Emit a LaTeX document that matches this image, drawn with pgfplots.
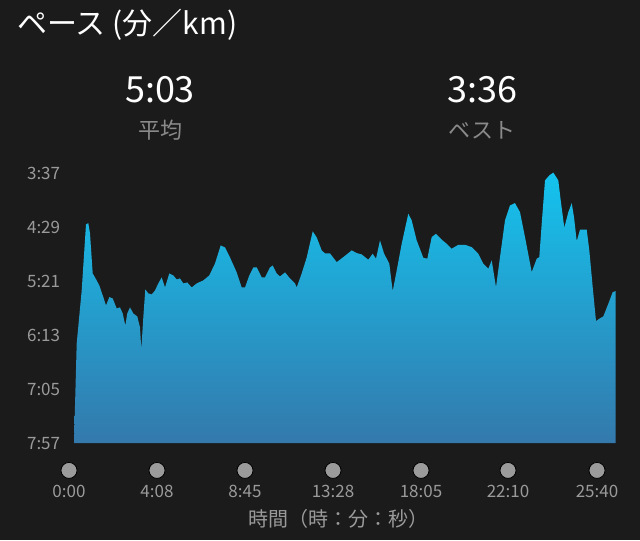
\documentclass[border=0pt]{standalone}
\usepackage{pgfplots}
\pgfplotsset{compat=1.18}
\usepackage{fontspec}
\setmainfont{Noto Sans CJK JP}
\definecolor{bg}{HTML}{1B1B1B}
\definecolor{tickc}{HTML}{9A9A9A}
\definecolor{subc}{HTML}{8A8A8A}
\definecolor{dotc}{HTML}{9B9B9B}
\definecolor{topc}{HTML}{14C3EE}
\definecolor{botc}{HTML}{3479AC}
\begin{document}
\begin{tikzpicture}[x=0.5pt,y=-0.5pt]
\fill[bg] (0,0) rectangle (640,540);
\path[use as bounding box] (0,0) rectangle (640,540);
\node[anchor=west,text=white,font=\fontsize{15}{17}\selectfont,inner sep=0pt] at (17,25) {ペース (分／km)};
\node[text=white,font=\fontsize{18}{20}\selectfont] at (160,90) {5:03};
\node[text=subc,font=\fontsize{11}{13}\selectfont] at (160,130) {平均};
\node[text=white,font=\fontsize{18}{20}\selectfont] at (482,90) {3:36};
\node[text=subc,font=\fontsize{11}{13}\selectfont] at (482,130) {ベスト};
\begin{axis}[
  at={(69,426.7)}, anchor=south west,
  scale only axis, width=273.35pt, height=135pt,
  xmin=0, xmax=546.7, ymin=217, ymax=477, y dir=reverse,
  axis line style={draw=none}, major tick length=0pt,
  clip=false,
  ytick={217,269,321,373,425,477},
  yticklabels={3:37,4:29,5:21,6:13,7:05,7:57},
  yticklabel style={anchor=west, xshift=-24.5pt, text=tickc, font=\fontsize{8.5}{10}\selectfont},
  xtick={0,88,176,264,352,439,528},
  xticklabels={0:00,4:08,8:45,13:28,18:05,22:10,25:40},
  xticklabel style={anchor=center, yshift=-24pt, text=tickc, font=\fontsize{8.5}{10}\selectfont},
  xlabel={時間（時：分：秒）},
  xlabel style={at={(axis description cs:0.5,0)}, anchor=center, yshift=-38pt, xshift=-2pt, text=tickc, font=\fontsize{10}{12}\selectfont},
]
\addplot[draw=none, top color=topc, bottom color=botc] coordinates {
(5,477) (7.7,381) (12.7,330) (17,266.4) (19.3,265.2) (21,275.1) (23.7,313.6) (26,317.4)
(30.3,325.1) (34.3,336.4) (37,344.4) (40.3,336.4) (43.7,337.7) (47.7,347.3) (51,346.3)
(53.7,352.1) (56.3,363.7) (58.3,352.1) (61,346.3) (64.3,352.1) (68.3,355) (71,365.6)
(72.3,386.8) (74.3,356) (76.3,329) (79.3,332.8) (82.7,333.8) (86,330) (89.3,323.2)
(92.7,317.4) (96,327.1) (100.3,313.6) (104.3,315.5) (107.7,319.4) (111,318.4) (114.3,323.2)
(118.3,322.3) (122.7,327.1) (127.7,323.2) (134.3,320.3) (140.3,315.5) (146,304) (151.7,286.6)
(156,288.6) (161,298.2) (167.7,312.6) (172.7,327.1) (176,327.1) (180.3,315.5) (184.3,307.8)
(187.7,307.8) (192.7,317.4) (196,317.4) (201,307.8) (203.7,305.9) (207.7,313.6) (211,316.5)
(216,312.6) (221,318.4) (226,323.2) (227.7,327.1) (232.7,313.6) (237.7,298.2) (243.7,273.1)
(247.7,278.9) (252.7,291.4) (256,294.3) (261,294.3) (267.7,302.7) (274.3,297.9) (282.7,291.4)
(287.7,294) (292.7,295.3) (299.3,300.4) (303.7,294.6) (307,299.4) (311,281.8) (315,294.3)
(320.3,304.2) (323.7,330.6) (327.7,310.7) (332.7,285) (339.3,256.1) (342.7,262.5) (347.7,281.8)
(354.3,298.5) (358.3,299.4) (362.7,278.6) (367,275.4) (372.7,281.1) (377.7,285) (382.7,289.8)
(389.3,286) (396,286) (402.7,288.3) (409.3,294.6) (414.3,304.2) (419.3,309.1) (422.7,301.1)
(427,326.8) (431,297.9) (436,262.5) (441,248.1) (446,245.9) (451,254.6) (456,278.6)
(462.7,312.3) (467.7,299.4) (470.3,297.9) (472.7,265.7) (476,224) (480.3,219.2) (484.3,216.5)
(489.3,224) (491.7,243.3) (495.3,269.6) (499.3,254.6) (502.7,245.9) (505,259.4) (507.7,282.5)
(511,271.5) (517.7,271.5) (520.3,291.4) (523.7,326.8) (527,359.5) (530.3,357.2) (534.3,355)
(539.3,342.8) (543.7,331.6) (546.7,330.6) (546.7,477)
} -- cycle;
\addplot[only marks, mark=*, mark size=4pt, mark options={draw=none, fill=dotc}] coordinates {
(0,503.3) (88,503.3) (176,503.3) (264,503.3) (352,503.3) (439,503.3) (528,503.3)
};
\end{axis}
\end{tikzpicture}
\end{document}
